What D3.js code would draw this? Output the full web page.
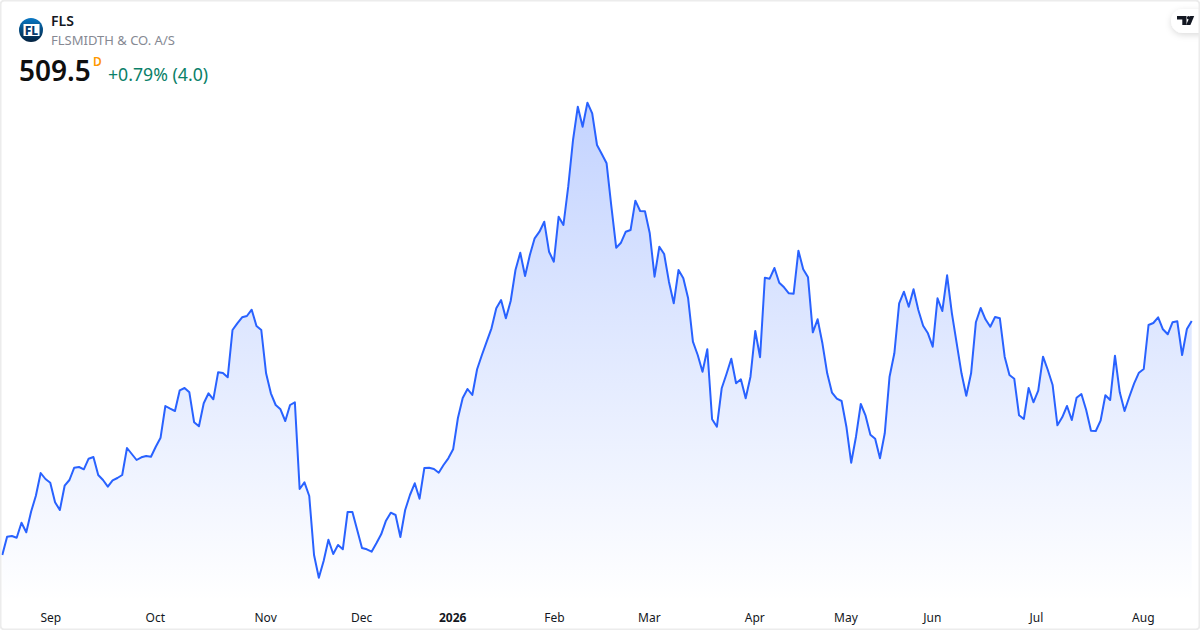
<!DOCTYPE html>
<html><head><meta charset="utf-8">
<script src="https://cdn.jsdelivr.net/npm/d3@7/dist/d3.min.js"></script>
<style>html,body{margin:0;padding:0;background:#fff;overflow:hidden}svg{display:block}text{font-family:"Noto Sans",sans-serif}</style>
</head><body><svg id="c" width="1200" height="630"></svg>
<script>
const prices = [275.5,293.8,294.5,292.8,307.8,298.2,318.8,334.8,357.5,351.5,347.8,328.2,320.5,344.8,350.5,362.8,363.5,361.2,371.8,373.5,355.5,350.5,343.8,350.2,352.5,355.5,382.5,376.5,370.5,373.2,374.5,373.8,383.8,392.8,424.5,421.8,419.5,440.2,442.5,438.2,408.2,404.2,427.2,437.2,431.2,
458.2,457.5,453.2,500.5,507.2,513.2,514.5,520.8,504.5,500.5,457.2,437.2,425.5,421.2,409.5,425.5,428.2,341.5,348.2,334.5,275.5,252.8,269.5,290.8,276.5,285.5,281.2,318.5,318.5,300.5,282.5,281.2,278.8,287.2,296.2,309.8,317.8,315.5,293.5,320.5,335.5,347.2,331.8,362.5,362.8,361.5,357.8,365.5,372.2,
381.2,412.5,432.5,441.5,435.5,461.2,475.5,488.8,502.2,522.2,530.5,512.2,529.5,560.5,577.8,554.5,575.5,592.2,598.8,608.8,578.8,568.8,613.8,605.5,643.8,690.5,723.8,703.8,727.8,717.2,685.5,676.5,667.2,623.8,582.8,587.8,598.8,600.5,629.8,619.5,619.2,597.2,553.8,583.8,576.5,548.8,527.2,560.5,552.2,532.2,488.8,475.5,458.8,481.2,411.2,403.8,
442.2,456.5,471.8,447.2,451.2,432.2,453.8,499.5,473.2,552.8,551.8,562.5,547.8,543.2,537.2,536.8,579.8,561.2,553.2,498.2,511.2,487.2,457.2,437.8,431.8,429.5,403.8,367.8,393.8,426.5,414.8,395.8,391.8,372.2,397.2,453.8,477.2,527.2,538.8,523.8,541.2,520.5,504.8,497.2,483.8,532.2,519.5,555.2,
517.2,487.2,457.2,434.8,457.2,508.2,522.5,511.2,503.8,513.5,512.2,473.8,455.5,451.8,415.2,411.5,442.5,428.2,439.8,473.8,460.5,445.5,405.2,413.2,424.5,410.5,432.8,436.5,420.5,399.8,399.5,409.8,435.2,430.5,474.8,438.2,419.5,433.8,447.2,457.8,461.5,505.5,507.5,513.2,501.2,496.2,508.2,509.2,475.5,501.5,509.5];
const tickLabels = ["Sep","Oct","Nov","Dec","2026","Feb","Mar","Apr","May","Jun","Jul","Aug"];
const tickIndex = [10,31.8,54.8,74.8,93.8,115,134.8,156.8,175.8,193.8,215.5,237.8];
const boldLabels = ["2026"];

const svg = d3.select("#c");
const x = d3.scaleLinear().domain([0, prices.length-1]).range([2.3, 1191.7]);
const y = d3.scaleLinear().domain([252.5,728.5]).range([578,102]);
const floorY = 601;

const defs = svg.append("defs");
const g = defs.append("linearGradient").attr("id","fill").attr("gradientUnits","userSpaceOnUse")
  .attr("x1",0).attr("x2",0).attr("y1",y(d3.max(prices))).attr("y2",floorY);
g.append("stop").attr("offset",0).attr("stop-color","#2962ff").attr("stop-opacity",0.28);
g.append("stop").attr("offset",1).attr("stop-color","#2962ff").attr("stop-opacity",0);
const lg = defs.append("linearGradient").attr("id","logo").attr("x1",0).attr("x2",0).attr("y1",0).attr("y2",1);
lg.append("stop").attr("offset",0).attr("stop-color","#0a78c4");
lg.append("stop").attr("offset",1).attr("stop-color","#03213f");
const sh = defs.append("filter").attr("id","sh").attr("x","-30%").attr("y","-40%").attr("width","160%").attr("height","200%");
sh.append("feDropShadow").attr("dx",0).attr("dy",2).attr("stdDeviation",3).attr("flood-color","#000").attr("flood-opacity",0.14);

svg.append("path").datum(prices).attr("fill","url(#fill)")
  .attr("d", d3.area().x((d,i)=>x(i)).y0(floorY).y1(d=>y(d)));
svg.append("path").datum(prices).attr("fill","none").attr("stroke","#2962ff").attr("stroke-width",2)
  .attr("stroke-linejoin","round")
  .attr("d", d3.line().x((d,i)=>x(i)).y(d=>y(d)));

const axis = d3.axisBottom(x).tickValues(tickIndex).tickSize(0).tickPadding(0)
  .tickFormat((d,i)=>tickLabels[i]);
const ag = svg.append("g").attr("transform","translate(0,622)").call(axis);
ag.select(".domain").remove();
ag.selectAll("text").attr("y",0).attr("dy",0).attr("font-size",12).attr("fill","#131722")
  .style("font-family",'"Noto Sans",sans-serif')
  .attr("font-weight",(d,i)=>boldLabels.includes(tickLabels[i])?700:400);

// header
const lgo = svg.append("g").attr("transform","translate(31,30)");
lgo.append("circle").attr("r",12).attr("fill","url(#logo)");
lgo.append("rect").attr("x",-7.5).attr("y",-6).attr("width",16).attr("height",12).attr("fill","#fff");
lgo.append("text").attr("x",0.5).attr("text-anchor","middle").attr("y",4.5).attr("font-size",12).attr("font-weight",800).attr("fill","#063a6e").text("FL");

svg.append("text").attr("x",51).attr("y",26).attr("font-size",14).attr("font-weight",600).attr("fill","#131722").text("FLS");
svg.append("text").attr("x",51).attr("y",45).attr("font-size",13).attr("fill","#868993").text("FLSMIDTH & CO. A/S");
svg.append("text").attr("x",19).attr("y",81).attr("font-size",28).attr("font-weight",600).attr("fill","#0f0f0f").text("509.5");
svg.append("text").attr("x",93).attr("y",66).attr("font-size",12).attr("font-weight",600).attr("fill","#ff9800").text("D");
svg.append("text").attr("x",108).attr("y",81).attr("font-size",17.7).attr("fill","#0a8068").text("+0.79% (4.0)");

// attribution badge
svg.append("rect").attr("x",1171).attr("y",9).attr("width",50).attr("height",24).attr("rx",12).attr("fill","#fff").attr("filter","url(#sh)");
const tv = svg.append("g").attr("fill","#131722");
tv.append("path").attr("d","M1177 16h9.5v9h-4.2v-5.4h-5.3z");
tv.append("circle").attr("cx",1188.6).attr("cy",17.7).attr("r",1.7);
tv.append("path").attr("d","M1190.2 16h4l-3.8 9h-4.3z");

// frame
svg.append("rect").attr("x",0.5).attr("y",0.5).attr("width",1199).attr("height",629).attr("rx",4).attr("fill","none").attr("stroke","#ececec").attr("stroke-width",2);
</script></body></html>
